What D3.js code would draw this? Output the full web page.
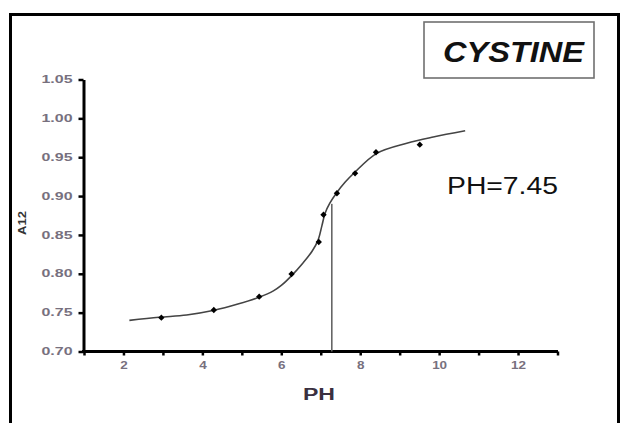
<!DOCTYPE html>
<html><head><meta charset="utf-8">
<script src="https://cdn.jsdelivr.net/npm/d3@7"></script>
<style>body{margin:0;background:#fff}svg{display:block}text{font-family:"Liberation Sans",Arial,sans-serif}</style>
</head><body>
<svg id="c" width="620" height="423"></svg>
<script>
// Measured points (pH, A1/2)
const phPoints = [2.96, 4.29, 5.44, 6.26, 6.95, 7.07, 7.41, 7.87, 8.40, 9.51];
const aPoints  = [0.7435, 0.7534, 0.7705, 0.7997, 0.8409, 0.876, 0.9036, 0.9293, 0.9564, 0.9661];
// Fitted curve
const phCurve = [2.15, 2.9, 3.6, 4.3, 4.9, 5.45, 5.8, 6.0, 6.25, 6.55, 6.78, 6.93, 7.03, 7.11, 7.23, 7.40, 7.62, 7.85, 8.42, 9.18, 9.85, 10.66];
const aCurve  = [0.740, 0.744, 0.747, 0.753, 0.761, 0.770, 0.778, 0.785, 0.797, 0.814, 0.829, 0.843, 0.862, 0.878, 0.891, 0.904, 0.918, 0.930, 0.955, 0.968, 0.976, 0.984];
const xTicks = [1,2,3,4,5,6,7,8,9,10,11,12,13];
const xTickLabels = ["","2","","4","","6","","8","","10","","12",""];
const yTicks = [0.70,0.75,0.80,0.85,0.90,0.95,1.00,1.05];
const markerPH = 7.28, markerA = 0.89;
const title = "CYSTINE", note = "PH=7.45", xTitle = "PH", yTitle = "A12";

const svg = d3.select("#c");
const x = d3.scaleLinear().domain([1,13]).range([84,557.5]);
const y = d3.scaleLinear().domain([0.70,1.05]).range([351.5,79.5]);

// outer frame
svg.append("path").attr("d","M10.5,423V14.5H618.5V423").attr("fill","none").attr("stroke","#000").attr("stroke-width",3);

// title box
svg.append("rect").attr("x",424).attr("y",22).attr("width",170).attr("height",56)
  .attr("fill","#fff").attr("stroke","#707070").attr("stroke-width",1.6);
svg.append("text").attr("x",443).attr("y",61.5).text(title)
  .attr("font-size",29).attr("font-weight","bold").attr("font-style","italic").attr("fill","#111")
  .attr("textLength",141).attr("lengthAdjust","spacingAndGlyphs");

// axes
const yAxis = svg.append("g").attr("transform","translate(83.5,0)")
  .call(d3.axisLeft(y).tickValues(yTicks).tickFormat(d3.format(".2f")).tickSize(5).tickSizeOuter(0).tickPadding(6));
const xAxis = svg.append("g").attr("transform","translate(0,351.5)")
  .call(d3.axisBottom(x).tickValues(xTicks).tickFormat((d,i)=>xTickLabels[i]).tickSize(4).tickSizeOuter(0).tickPadding(6));
[yAxis,xAxis].forEach(g=>{
  g.select(".domain").attr("stroke","#000").attr("stroke-width",3);
  g.selectAll(".tick line").attr("stroke","#000").attr("stroke-width",2.5);
  g.selectAll(".tick text").attr("font-size",10).attr("font-weight","bold").attr("fill","#77707e")
   .attr("font-family","'Liberation Sans',Arial,sans-serif");
});
yAxis.selectAll(".tick text").attr("textLength",31).attr("lengthAdjust","spacingAndGlyphs");
xAxis.selectAll(".tick text").each(function(){
  const t=d3.select(this); const n=t.text().length; if(n) t.attr("textLength",n*7.5).attr("lengthAdjust","spacingAndGlyphs");
});
xAxis.select(".domain").attr("d","M82,0H558");

// axis titles
svg.append("text").attr("x",319).attr("y",399.5).attr("text-anchor","middle").text(xTitle)
  .attr("font-size",16).attr("font-weight","bold").attr("fill","#3a3040")
  .attr("textLength",32).attr("lengthAdjust","spacingAndGlyphs");
svg.append("text").attr("transform","translate(26,223) rotate(-90)").attr("text-anchor","middle").text(yTitle)
  .attr("font-size",11).attr("font-weight","bold").attr("fill","#333")
  .attr("textLength",24).attr("lengthAdjust","spacingAndGlyphs");

// marker vertical line
svg.append("line").attr("x1",x(markerPH)).attr("x2",x(markerPH)).attr("y1",y(0.70)).attr("y2",y(markerA))
  .attr("stroke","#666").attr("stroke-width",1.6);

// curve
const curve = phCurve.map((p,i)=>[p,aCurve[i]]);
svg.append("path").datum(curve)
  .attr("d",d3.line().x(d=>x(d[0])).y(d=>y(d[1])).curve(d3.curveCatmullRom.alpha(0.5)))
  .attr("fill","none").attr("stroke","#444").attr("stroke-width",1.6);

// points
svg.selectAll(".pt").data(phPoints.map((p,i)=>[p,aPoints[i]])).join("path")
  .attr("transform",d=>`translate(${x(d[0])},${y(d[1])}) rotate(45)`)
  .attr("d",d3.symbol(d3.symbolSquare,20)).attr("fill","#000");

// note
svg.append("text").attr("x",447).attr("y",193.5).text(note)
  .attr("font-size",23).attr("fill","#111")
  .attr("textLength",111).attr("lengthAdjust","spacingAndGlyphs");
</script>
</body></html>
